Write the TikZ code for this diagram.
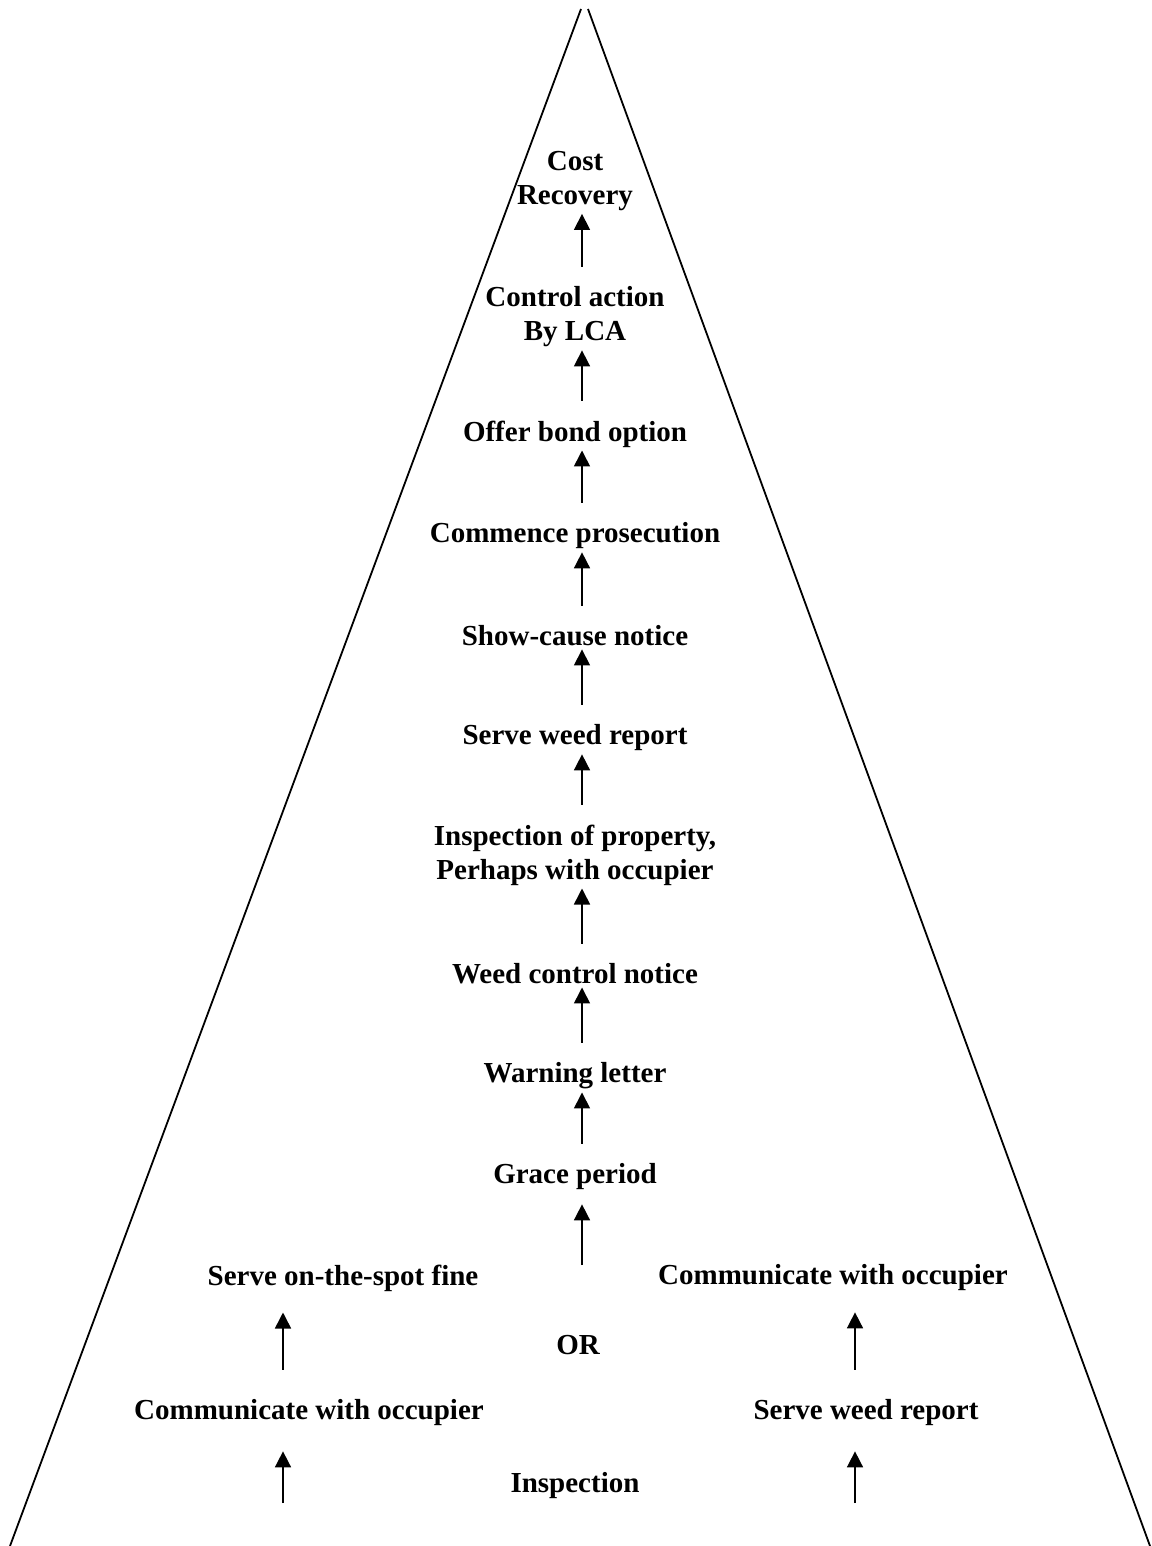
\documentclass[tikz,border=0pt]{standalone}
\usepackage{fontspec}
\setmainfont{Liberation Serif}
\usetikzlibrary{arrows.meta,calc}

\begin{document}
\begin{tikzpicture}[x=1pt,y=-1pt,
  stage/.style={font=\fontsize{29}{34}\selectfont\bfseries,align=center,inner sep=0pt},
  flow/.style={line width=1.6pt,-{Triangle[length=16pt,width=16pt]},shorten >=3pt,shorten <=20pt}]
\useasboundingbox (0,0) rectangle (1151,1546);
% the two sides of the pyramid
\draw[line width=1.8pt] (581,9) -- (10,1546);
\draw[line width=1.8pt] (588,9) -- (1150,1546);
% main column
\node[stage] (cost) at (575,181) {Cost\\Recovery};
\node[stage] (lca) at (575,317) {Control action\\By LCA};
\node[stage] (bond) at (575,434) {Offer bond option};
\node[stage] (pros) at (575,536) {Commence prosecution};
\node[stage] (cause) at (575,636) {Show-cause notice};
\node[stage] (wreport) at (575,738) {Serve weed report};
\node[stage] (prop) at (575,855) {Inspection of property,\\Perhaps with occupier};
\node[stage] (wnotice) at (575,974) {Weed control notice};
\node[stage] (warn) at (575,1076) {Warning letter};
\node[stage] (grace) at (575,1177) {Grace period};
% the two branches
\node[stage] (fine) at (343,1278) {Serve on-the-spot fine};
\node[stage] (commR) at (833,1278) {Communicate with occupier};
\node[stage] (or) at (578,1345) {OR};
\node[stage] (commL) at (309,1413) {Communicate with occupier};
\node[stage] (sreport) at (866,1413) {Serve weed report};
\node[stage] (insp) at (575,1486) {Inspection};
\coordinate (orbase) at (582,1265);
\coordinate (baseL) at (283,1503);
\coordinate (baseR) at (855,1503);
% arrows up the column
\draw[flow] ([xshift=7pt]lca.north) -- ([xshift=7pt]cost.south);
\draw[flow] ([xshift=7pt]bond.north) -- ([xshift=7pt]lca.south);
\draw[flow] ([xshift=7pt]pros.north) -- ([xshift=7pt]bond.south);
\draw[flow] ([xshift=7pt]cause.north) -- ([xshift=7pt]pros.south);
\draw[flow] ([xshift=7pt]wreport.north) -- ([xshift=7pt]cause.south);
\draw[flow] ([xshift=7pt]prop.north) -- ([xshift=7pt]wreport.south);
\draw[flow] ([xshift=7pt]wnotice.north) -- ([xshift=7pt]prop.south);
\draw[flow] ([xshift=7pt]warn.north) -- ([xshift=7pt]wnotice.south);
\draw[flow] ([xshift=7pt]grace.north) -- ([xshift=7pt]warn.south);
\draw[flow,shorten <=0pt,shorten >=14pt] (orbase) -- (grace.south -| orbase);
% arrows in the branches
\draw[flow,shorten >=21pt,shorten <=30pt] (commL.north -| baseL) -- (fine.south -| baseL);
\draw[flow,shorten >=21pt,shorten <=30pt] (sreport.north -| baseR) -- (commR.south -| baseR);
\draw[flow,shorten <=0pt,shorten >=25pt] (baseL) -- (commL.south -| baseL);
\draw[flow,shorten <=0pt,shorten >=25pt] (baseR) -- (sreport.south -| baseR);
\end{tikzpicture}
\end{document}
